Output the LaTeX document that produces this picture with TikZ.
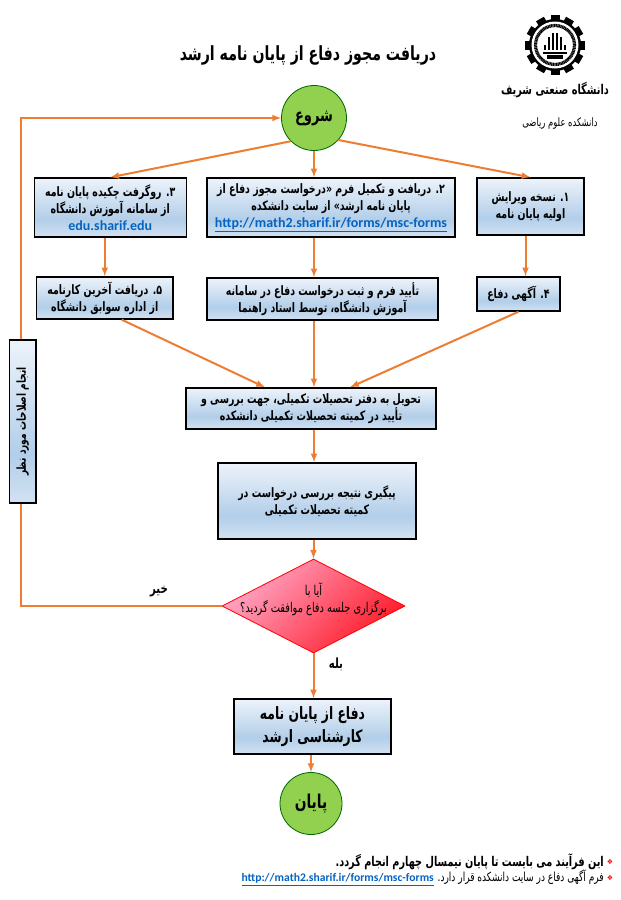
\documentclass[tikz,border=0pt]{standalone}
\usepackage{fontspec}
\usepackage{tikz}
\usetikzlibrary{shapes,shapes.geometric,arrows,positioning}
\TeXXeTstate=1
\setmainfont{Carlito}
\newfontfamily\farsi[Script=Arabic,FakeStretch=0.725]{DejaVu Sans}
\newfontfamily\bulletface{DejaVu Sans}
\newcommand{\fa}[1]{\beginR #1\endR}
\newcommand{\lat}[1]{{\fontfamily{\rmdefault}\selectfont\color{linkblue}#1}}
\definecolor{linkblue}{HTML}{0563C1}
\definecolor{arrowcol}{HTML}{ED7D31}
\definecolor{boxtop}{HTML}{EDF3FA}
\definecolor{boxmid}{HTML}{B2CEE9}
\definecolor{boxlow}{HTML}{D2E2F2}
\definecolor{circlegreen}{HTML}{92D050}
\definecolor{checkpink}{HTML}{FFA8C8}
\definecolor{checkred}{HTML}{FF1A28}
\pgfdeclareverticalshading{boxshade}{100bp}{color(0bp)=(boxlow); color(25bp)=(boxlow); color(40bp)=(boxmid); color(75bp)=(boxtop); color(100bp)=(boxtop)}

\begin{document}
\begin{tikzpicture}[
    x=1pt, y=-1pt,
    every node/.style={font=\farsi\bfseries\fontsize{13}{17}\selectfont, align=center, inner sep=0pt},
    blockbox/.style={draw=black, line width=1.4pt, shading=boxshade},
    startend/.style={circle, draw=black!60!green, line width=0.8pt, fill=circlegreen, minimum size=#1},
    decision/.style={diamond, draw=red, line width=0.8pt, shading=axis, top color=checkpink, bottom color=checkred, shading angle=45, minimum width=183pt, minimum height=94pt, aspect=1.95},
    branch/.style={font=\farsi\bfseries\fontsize{14}{16}\selectfont},
    bullet/.style={font=\bulletface\fontsize{7}{8}\selectfont, text=red},
    arrow/.style={-latex, line width=2pt, draw=arrowcol}
]
\useasboundingbox (0,0) rectangle (621,900);

\node (title) at (308,55) {\fontsize{19.5}{22}\selectfont\fa{دریافت مجوز دفاع از پایان نامه ارشد}};

% start and first row
\node (start) [startend=65pt] at (314,118) {\fontsize{18}{20}\selectfont\fa{شروع}};
\node (box2) [blockbox, minimum width=248pt, minimum height=59pt, node distance=89.5pt, below of=start, xshift=17pt] {\fa{۲. دریافت و تکمیل فرم «درخواست مجوز دفاع از}\\\fa{پایان نامه ارشد» از سایت دانشکده}\\\lat{\fontsize{14}{17}\selectfont\underline{http://math2.sharif.ir/forms/msc-forms}}};
\node (box3) [blockbox, minimum width=152pt, minimum height=59pt, node distance=220.75pt, left of=box2] {\fa{۳. روگرفت چکیده پایان نامه}\\\fa{از سامانه آموزش دانشگاه}\\\lat{\fontsize{14}{17}\selectfont edu.sharif.edu}};
\node (box1) [blockbox, minimum width=107pt, minimum height=57pt, node distance=199.5pt, right of=box2, yshift=1pt] {\fa{۱. نسخه ویرایش}\\\fa{اولیه پایان نامه}};

% second row
\node (mid) [blockbox, minimum width=231pt, minimum height=42pt, node distance=91.5pt, below of=box2, xshift=-8.5pt] {\fa{تأیید فرم و ثبت درخواست دفاع در سامانه}\\\fa{آموزش دانشگاه، توسط استاد راهنما}};
\node (box5) [blockbox, minimum width=136.5pt, minimum height=42pt, node distance=217.75pt, left of=mid, yshift=1pt] {\fa{۵. دریافت آخرین کارنامه}\\\fa{از اداره سوابق دانشگاه}};
\node (box4) [blockbox, minimum width=83pt, minimum height=34pt, node distance=196pt, right of=mid, yshift=5pt] {\fa{۴. آگهی دفاع}};

% rest of the chain
\node (deliver) [blockbox, minimum width=250pt, minimum height=41pt, node distance=109.5pt, below of=mid, xshift=-11.5pt] {\fa{تحویل به دفتر تحصیلات تکمیلی، جهت بررسی و}\\\fa{تأیید در کمیته تحصیلات تکمیلی دانشکده}};
\node (follow) [blockbox, minimum width=198pt, minimum height=76pt, node distance=92.5pt, below of=deliver, xshift=6pt] {\fa{پیگیری نتیجه بررسی درخواست در}\\\fa{کمیته تحصیلات تکمیلی}};
\node (check) [decision, node distance=105pt, below of=follow, xshift=-3.5pt, label={[align=center, yshift=7pt, font=\farsi\fontsize{13.5}{17}\selectfont]center:{\beginR آیا با\endR\\\beginR برگزاری جلسه دفاع موافقت گردید؟\endR}}] {};
\node (defense) [blockbox, minimum width=157pt, minimum height=55pt, node distance=120.5pt, below of=check, xshift=-1pt, font=\farsi\bfseries\fontsize{17}{23}\selectfont] {\fa{دفاع از پایان نامه}\\\fa{کارشناسی ارشد}};
\node (end) [startend=62pt, node distance=77pt, below of=defense, xshift=-1.5pt] {\fontsize{19}{21}\selectfont\fa{پایان}};

% side box
\node (fix) [blockbox, rotate=90, minimum width=163pt, minimum height=26.5pt] at (22.75,421.5) {\fontsize{12.4}{14}\selectfont\fa{انجام اصلاحات مورد نظر}};
\coordinate (corner) at (21,606);
\coordinate (turn) at (21,118);

\draw[arrow] (start.-135) -- (box3.north);
\draw[arrow] (start.south) -- (start |- box2.north);
\draw[arrow] (start.-42) -- (box1.north);
\draw[arrow] (box3.south -| box5.north) -- (box5.north);
\draw[arrow] (start |- box2.south) -- (start |- mid.north);
\draw[arrow] ([xshift=7pt]box4.north |- box1.south) -- ([xshift=7pt]box4.north);
\draw[arrow] ([xshift=17pt]box5.south) -- ([xshift=-46pt]deliver.north);
\draw[arrow] (start |- mid.south) -- (start |- deliver.north);
\draw[arrow] (box4.south) -- ([xshift=39pt]deliver.north);
\draw[arrow] (start |- deliver.south) -- (start |- follow.north);
\draw[arrow] (check.north |- follow.south) -- (check.north);
\draw[arrow] (check.south) -- (check.south |- defense.north);
\draw[arrow] (end.north |- defense.south) -- (end.north);
\draw[arrow, -] (check.west) -- (corner) -- (corner |- fix.west);
\draw[arrow] (corner |- fix.east) -- (turn) -- (start.west);

\node (no) [branch] at (159,591) {\fa{خیر}};
\node (yes) [branch] at (336,664) {\fa{بله}};

% footnotes
\node (dot1) [bullet] at (610,862) {❖};
\node (dot2) [bullet] at (610,878) {❖};
\node (note1) [anchor=east, font=\farsi\bfseries\fontsize{13.4}{17}\selectfont] at (604,862) {\fa{این فرآیند می بایست تا پایان نیمسال چهارم انجام گردد.}};
\node (note2) [anchor=east, font=\farsi\fontsize{12.5}{15}\selectfont] at (604,878) {\fa{فرم آگهی دفاع در سایت دانشکده قرار دارد. \beginL\lat{\bfseries\fontsize{11.6}{14}\selectfont\underline{http://math2.sharif.ir/forms/msc-forms}}\endL}};

% logo
\node (seal) [circle, fill=black, minimum size=52pt] at (555,45) {};
\foreach \a in {0,30,...,330}
    \fill[black, rotate around={\a:(555,45)}] (550.5,15) rectangle (559.5,22);
\fill[white] (seal.center) circle (23.5pt);
\draw[black, line width=3.2pt, dash pattern=on 1.1pt off 0.5pt] (seal.center) circle (19.5pt);
\fill[white] (seal.center) circle (17pt);
\foreach \dx in {-10,-6,-2,2,6,10}
    \fill[black] (555+\dx-1.3,33+0.12*\dx*\dx) rectangle (555+\dx+1.3,50);
\fill[black] (543,51.5) rectangle (567,53.5);
\fill[black] (547,55) rectangle (563,58.5);
\node (uni) [font=\farsi\bfseries\fontsize{13.5}{15}\selectfont] at (555,90) {\fa{دانشگاه صنعتی شریف}};
\node (faculty) [font=\farsi\fontsize{11.6}{13}\selectfont] at (560,124) {\fa{دانشکده علوم ریاضی}};
\end{tikzpicture}
\end{document}
